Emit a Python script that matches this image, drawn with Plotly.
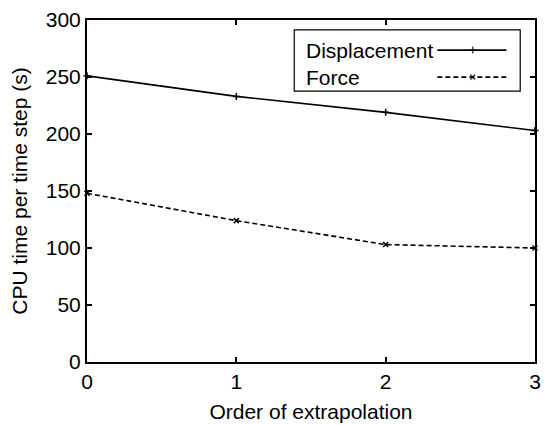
import plotly.graph_objects as go

orders = [0, 1, 2, 3]
displacement = [251, 233, 219, 203]
force = [148, 124, 103, 100]
series_names = ["Displacement", "Force"]
y_ticks = [0, 50, 100, 150, 200, 250, 300]
x_ticks = [0, 1, 2, 3]

FONT = "Liberation Sans, Arial, Helvetica, sans-serif"
FS = 21

fig = go.Figure()
fig.add_trace(go.Scatter(
    x=orders, y=displacement, mode="lines+markers", name=series_names[0],
    line=dict(color="black", width=1.6),
    marker=dict(symbol="cross-thin", size=5, line=dict(color="black", width=1.5)),
    showlegend=False, cliponaxis=False))
fig.add_trace(go.Scatter(
    x=orders, y=force, mode="lines+markers", name=series_names[1],
    line=dict(color="black", width=1.6, dash="5px,3px"),
    marker=dict(symbol="x-thin", size=5, line=dict(color="black", width=1.5)),
    showlegend=False, cliponaxis=False))

# custom legend (text left, sample right) drawn on a hidden overlay axis
lx0, lxm, lx1 = 0.782, 0.861, 0.936
for name, yy, dash, sym in [(series_names[0], 0.912, "solid", "cross-thin"),
                            (series_names[1], 0.833, "5px,3px", "x-thin")]:
    fig.add_trace(go.Scatter(
        x=[lx0, lxm, lx1], y=[yy, yy, yy], xaxis="x2", yaxis="y2",
        mode="lines+markers", showlegend=False, hoverinfo="skip",
        line=dict(color="black", width=1.6, dash=dash),
        marker=dict(symbol=sym, size=[0, 5, 0], line=dict(color="black", width=1.5))))
    fig.add_annotation(x=0.485, y=yy, xref="paper", yref="paper", text=name,
                       showarrow=False, xanchor="left", yanchor="middle",
                       font=dict(family=FONT, size=FS, color="black"))

fig.add_shape(type="rect", xref="paper", yref="paper",
              x0=0.4626, x1=0.967, y0=0.792, y1=0.971,
              line=dict(color="black", width=1.2), fillcolor="white", layer="below")

axis_common = dict(
    showline=True, linecolor="black", linewidth=2, mirror="ticks",
    ticks="inside", ticklen=5, tickwidth=1.5, tickcolor="black",
    showgrid=False, zeroline=False,
    tickfont=dict(family=FONT, size=FS, color="black"),
)
fig.update_layout(
    width=545, height=425,
    margin=dict(l=87, r=4, t=20, b=63),
    paper_bgcolor="white", plot_bgcolor="white",
    font=dict(family=FONT, size=FS, color="black"),
    xaxis=dict(range=[0, 3], tickvals=x_ticks,
               title=dict(text="Order of extrapolation", standoff=12,
                          font=dict(family=FONT, size=FS)),
               **axis_common),
    yaxis=dict(range=[0, 300], tickvals=y_ticks,
               title=dict(text="CPU time per time step (s)", standoff=12,
                          font=dict(family=FONT, size=FS)),
               **axis_common),
    xaxis2=dict(range=[0, 1], overlaying="x", visible=False, fixedrange=True),
    yaxis2=dict(range=[0, 1], overlaying="y", visible=False, fixedrange=True),
)

fig.write_html("out.html")
